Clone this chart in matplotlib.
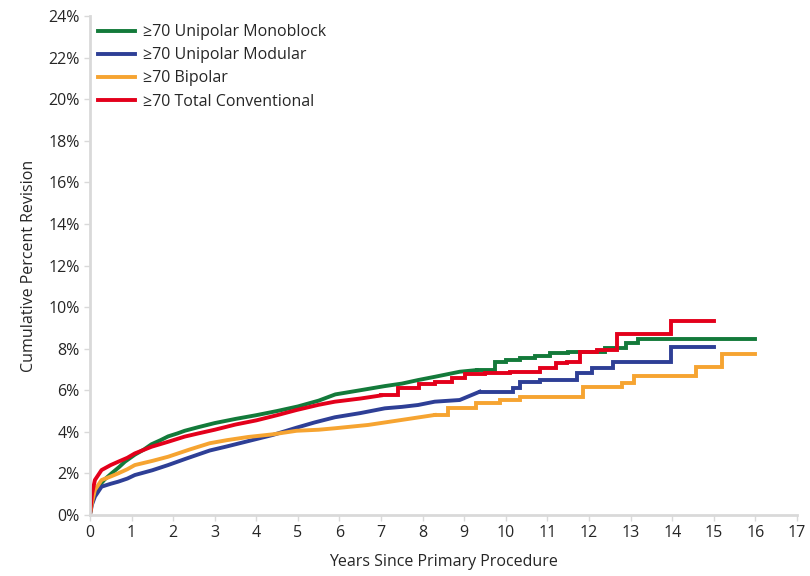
import matplotlib.pyplot as plt
from matplotlib.ticker import FuncFormatter

# years since primary procedure / cumulative percent revision
mono_t = [0, 0.05, 0.1, 0.2, 0.35, 0.52, 0.7, 0.84, 1.08, 1.3, 1.48, 1.7, 1.88, 2.1, 2.28, 2.6, 3.0, 3.5, 4.0,
          4.5, 5.0, 5.5, 5.9, 6.5, 7.09, 7.5, 7.89, 8.3, 8.89, 9.3, 9.73, 10.0, 10.33, 10.7, 11.05, 11.5,
          12.0, 12.38, 12.9, 13.17, 16.0]
mono_v = [0, 0.7, 1.1, 1.36, 1.7, 2.0, 2.3, 2.56, 2.9, 3.15, 3.4, 3.6, 3.78, 3.92, 4.05, 4.22, 4.42, 4.62, 4.8,
          5.0, 5.22, 5.5, 5.8, 6.0, 6.2, 6.32, 6.49, 6.65, 6.89, 6.97, 7.37, 7.45, 7.53, 7.65, 7.77, 7.82,
          7.85, 8.04, 8.26, 8.45, 8.45]

modular_t = [0, 0.05, 0.12, 0.28, 0.5, 0.68, 0.9, 1.08, 1.5, 1.88, 2.3, 2.88, 3.3, 3.8, 4.4, 4.97, 5.4, 5.89,
             6.5, 7.09, 7.5, 7.89, 8.29, 8.89, 9.37, 10.17, 10.33, 10.82, 11.7, 12.06, 12.58, 13.97, 15.0]
modular_v = [0, 0.5, 0.88, 1.36, 1.5, 1.6, 1.75, 1.92, 2.15, 2.4, 2.7, 3.1, 3.3, 3.55, 3.85, 4.2, 4.45, 4.7,
             4.9, 5.13, 5.2, 5.29, 5.45, 5.53, 5.93, 6.09, 6.41, 6.49, 6.81, 7.08, 7.34, 8.06, 8.06]

bipolar_t = [0, 0.05, 0.12, 0.28, 0.5, 0.68, 0.9, 1.08, 1.5, 1.88, 2.4, 2.88, 3.3, 3.8, 4.4, 4.97, 5.5, 5.89,
             6.69, 7.49, 8.29, 8.61, 9.29, 9.85, 10.33, 11.85, 12.8, 13.08, 14.58, 15.2, 16.0]
bipolar_v = [0, 0.6, 1.2, 1.68, 1.85, 2.0, 2.2, 2.4, 2.6, 2.8, 3.15, 3.45, 3.6, 3.75, 3.88, 4.05, 4.1, 4.17,
             4.33, 4.57, 4.81, 5.13, 5.37, 5.53, 5.69, 6.14, 6.33, 6.68, 7.13, 7.74, 7.74]

total_t = [0, 0.05, 0.12, 0.28, 0.5, 0.68, 0.9, 1.08, 1.48, 1.88, 2.28, 2.6, 3.0, 3.5, 4.0, 4.5, 4.97, 5.5,
           5.89, 6.5, 7.0, 7.41, 7.9, 8.29, 8.7, 9.01, 9.5, 10.1, 10.82, 11.2, 11.46, 11.78, 12.2, 12.66,
           13.97, 15.0]
total_v = [0, 1.0, 1.68, 2.16, 2.4, 2.56, 2.75, 2.96, 3.28, 3.52, 3.77, 3.92, 4.1, 4.35, 4.55, 4.8, 5.05, 5.3,
           5.45, 5.6, 5.75, 6.09, 6.3, 6.41, 6.6, 6.8, 6.85, 6.89, 7.05, 7.3, 7.37, 7.85, 7.93, 8.69, 9.33, 9.33]

# early part of each curve is dense enough to look smooth; steps are drawn after this year
smooth_until = [9.3, 9.37, 8.29, 7.0]

series = [
    ('\u226570 Unipolar Monoblock', mono_t, mono_v, '#137a3a'),
    ('\u226570 Unipolar Modular', modular_t, modular_v, '#2e3f96'),
    ('\u226570 Bipolar', bipolar_t, bipolar_v, '#f6a431'),
    ('\u226570 Total Conventional', total_t, total_v, '#e3001b'),
]

plt.rcParams['font.family'] = ['Open Sans', 'DejaVu Sans']
text_col = '#262626'
grey = '#d9d9d9'
fs = 11.5

fig = plt.figure(figsize=(8.1, 5.76), dpi=100)
ax = fig.add_axes([0.111, 0.106, 0.873, 0.866])

for (name, t, v, col), cut in zip(series, smooth_until):
    k = t.index(cut)
    ax.plot(t[:k + 1], v[:k + 1], color=col, lw=2.8, label=name, solid_joinstyle='round')
    ax.plot(t[k:], v[k:], drawstyle='steps-post', color=col, lw=2.8, solid_joinstyle='miter')

ax.set_xlim(0, 17)
ax.set_ylim(0, 24)
ax.set_xticks(range(0, 18))
ax.set_yticks(range(0, 25, 2))
ax.yaxis.set_major_formatter(FuncFormatter(lambda y, _: f'{y:.0f}%'))

for side in ['top', 'right']:
    ax.spines[side].set_visible(False)
for side in ['left', 'bottom']:
    ax.spines[side].set_color(grey)
    ax.spines[side].set_linewidth(2)
ax.tick_params(axis='both', colors=grey, length=4, width=1, labelcolor=text_col, labelsize=fs)

ax.set_xlabel('Years Since Primary Procedure', fontsize=fs, color=text_col, labelpad=9)
ax.set_ylabel('Cumulative Percent Revision', fontsize=fs, color=text_col, labelpad=8)

ax.legend(loc='upper left', frameon=False, fontsize=fs, handlelength=2.3, handletextpad=0.55,
          labelspacing=0.45, borderaxespad=0.1, bbox_to_anchor=(0.0, 1.0), labelcolor=text_col)

fig.savefig('out.png', dpi=100)
